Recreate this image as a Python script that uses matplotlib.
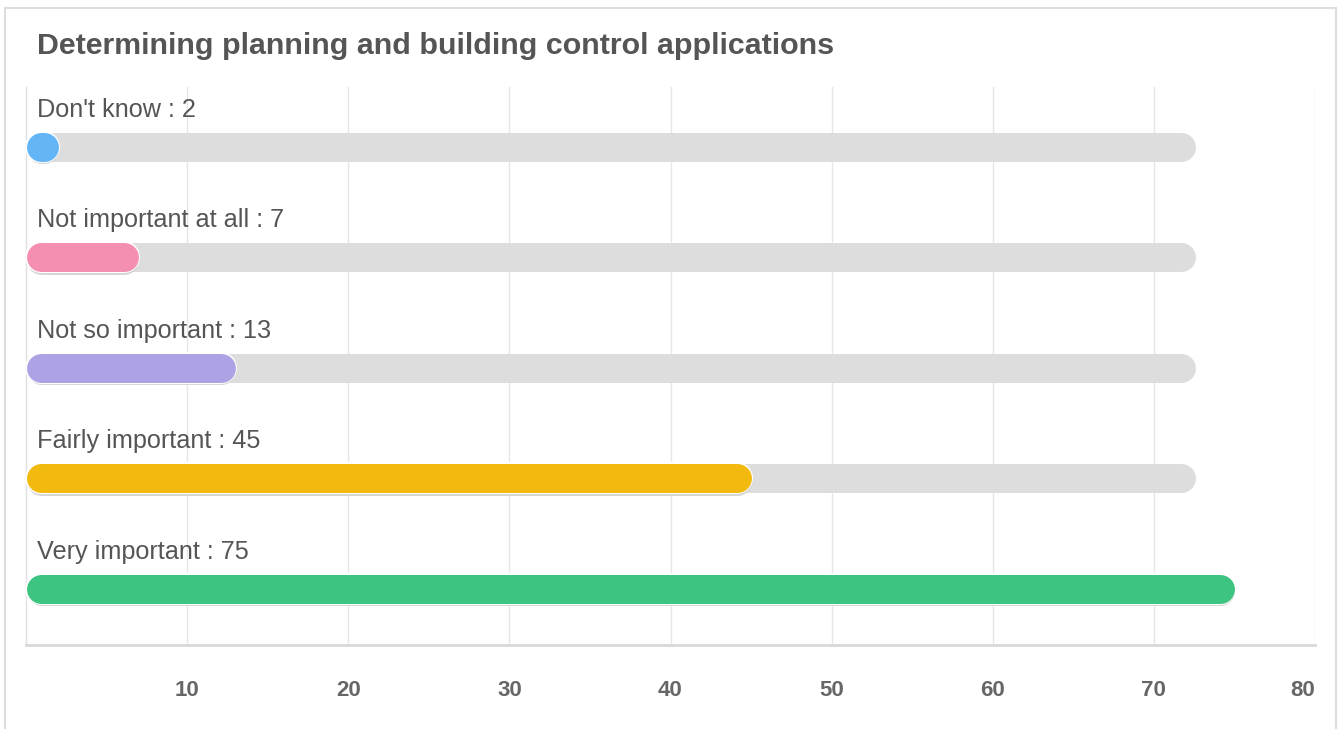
import matplotlib
matplotlib.use("Agg")
import matplotlib.pyplot as plt
import matplotlib.patches as patches
import matplotlib.transforms as mtransforms

plt.rcParams["font.family"] = ["Liberation Sans", "DejaVu Sans"]

title = "Determining planning and building control applications"
categories = ["Don't know", "Not important at all", "Not so important", "Fairly important", "Very important"]
values = [2, 7, 13, 45, 75]
colors = ["#64b5f6", "#f48fb1", "#ada3e4", "#f2b90f", "#3ec481"]
track_max = 72.6
ticks = [10, 20, 30, 40, 50, 60, 70, 80]

W, H = 1338, 729
fig = plt.figure(figsize=(W / 100, H / 100), dpi=100)
ax = fig.add_axes([26 / W, 1 - 645 / H, (1315 - 26) / W, (645 - 87) / H])
ax.set_xlim(0, 80)
ax.set_ylim(4.51, -0.54)

# bar thickness in pixels, converted to points for the line widths
bar_px = 29
px2pt = 72 / fig.dpi
px_per_unit = ax.transData.transform((1, 0))[0] - ax.transData.transform((0, 0))[0]
r = (bar_px / 2) / px_per_unit

shadow = mtransforms.offset_copy(ax.transData, fig=fig, x=0, y=-2.5, units="dots")

for i, (cat, val, col) in enumerate(zip(categories, values, colors)):
    # grey track
    ax.plot([r, track_max - r], [i, i], color="#dddddd", lw=bar_px * px2pt,
            solid_capstyle="round", zorder=2)
    # shadow, white outline, coloured bar
    x1 = max(val - r, r)
    ax.plot([r, x1], [i, i], color="#d6d6d6", lw=bar_px * px2pt,
            solid_capstyle="round", transform=shadow, zorder=3)
    ax.plot([r, x1], [i, i], color="white", lw=(bar_px + 3) * px2pt,
            solid_capstyle="round", zorder=4)
    ax.plot([r, x1], [i, i], color=col, lw=bar_px * px2pt,
            solid_capstyle="round", zorder=5)
    ax.annotate(f"{cat} : {val}", xy=(0, i), xytext=(11, 30), textcoords="offset pixels",
                ha="left", va="baseline", fontsize=18.2, color="#555555", zorder=6)

ax.set_xticks(ticks)
ax.set_xticklabels([str(t) for t in ticks], fontweight="bold", color="#666666", fontsize=16)
ax.get_xticklabels()[-1].set_ha("right")
ax.tick_params(axis="x", length=0, pad=25)
ax.set_yticks([])
ax.grid(axis="x", color="#e6e6e6", lw=1.0)
ax.set_axisbelow(True)
for s in ["top", "right"]:
    ax.spines[s].set_visible(False)
ax.spines["left"].set_color("#e0e0e0")
ax.spines["left"].set_linewidth(1.0)
ax.spines["bottom"].set_color("#d8d8d8")
ax.spines["bottom"].set_linewidth(2.0)

fig.text(37 / W, 1 - 54 / H, title, ha="left", va="baseline", fontsize=21.9,
         fontweight="bold", color="#555555")

fig.add_artist(patches.Rectangle((5 / W, -0.05), 1331 / W, 1 - 8 / H + 0.05,
                                 transform=fig.transFigure, fill=False,
                                 ec="#dddddd", lw=1.5))

fig.savefig("out.png", dpi=100, facecolor="white")
